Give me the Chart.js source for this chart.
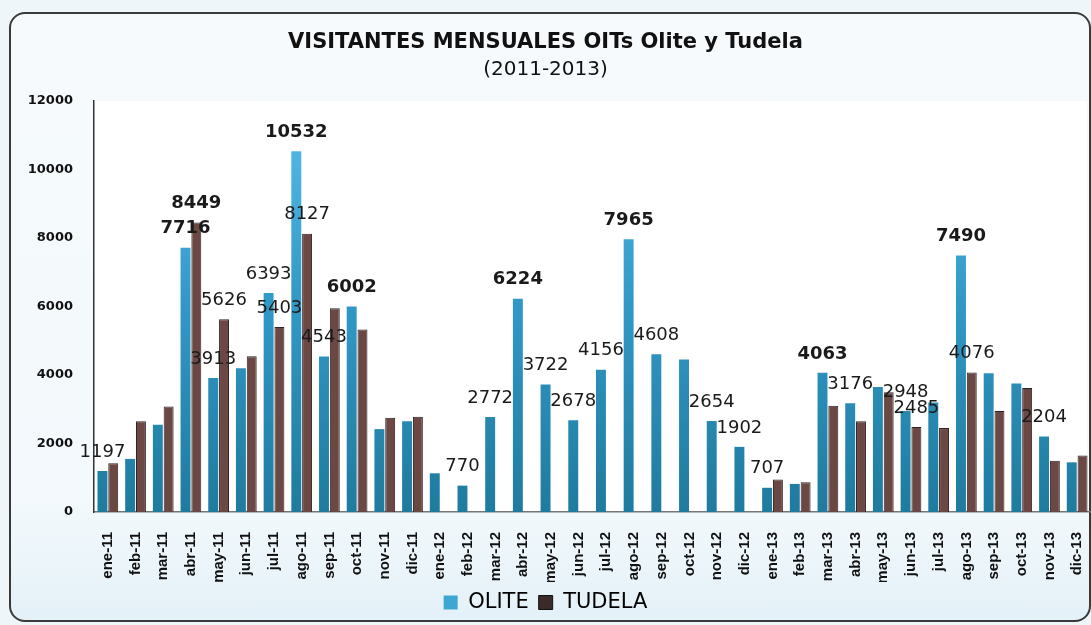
<!DOCTYPE html>
<html>
<head>
<meta charset="utf-8">
<script src="https://cdn.jsdelivr.net/npm/chart.js@4/dist/chart.umd.min.js"></script>
<style>
  html, body { margin: 0; padding: 0; background: #eef6fa; }
  #wrap { position: relative; width: 1091px; height: 625px; overflow: hidden; }
  #frame {
    position: absolute; left: 9px; top: 12px; width: 1078px; height: 606px;
    border: 2px solid #3a3a3a; border-radius: 16px;
    background: linear-gradient(#f6fafc, #f3f9fc 80%, #e4f1f8);
  }
  canvas { position: absolute; left: 0; top: 0; }
</style>
</head>
<body>
<div id="wrap">
  <div id="frame"></div>
  <canvas id="visitChart" width="1091" height="625"></canvas>
</div>
<script>
// Monthly visitors, Olite and Tudela tourist offices 2011-2013
const months = [
  'ene-11','feb-11','mar-11','abr-11','may-11','jun-11','jul-11','ago-11','sep-11','oct-11','nov-11','dic-11',
  'ene-12','feb-12','mar-12','abr-12','may-12','jun-12','jul-12','ago-12','sep-12','oct-12','nov-12','dic-12',
  'ene-13','feb-13','mar-13','abr-13','may-13','jun-13','jul-13','ago-13','sep-13','oct-13','nov-13','dic-13'
];
const olite = [
  1197, 1550, 2550, 7716, 3913, 4200, 6393, 10532, 4543, 6002, 2420, 2650,
  1130, 770, 2772, 6224, 3722, 2678, 4156, 7965, 4608, 4450, 2654, 1902,
  707, 820, 4063, 3176, 3650, 2948, 3200, 7490, 4050, 3750, 2204, 1450
];
const tudela = [
  1420, 2650, 3080, 8449, 5626, 4550, 5403, 8127, 5950, 5330, 2750, 2780,
  0, 0, 0, 0, 0, 0, 0, 0, 0, 0, 0, 0,
  950, 870, 3100, 2650, 3500, 2485, 2450, 4076, 2950, 3620, 1500, 1650
];
// which bars carry a value label in the original
const oliteLabelled = [0, 3, 4, 6, 7, 8, 9, 13, 14, 15, 16, 17, 18, 19, 20, 22, 23, 24, 26, 27, 29, 31, 34];
const tudelaLabelled = [3, 4, 6, 7, 29, 31];
const yTicks = [0, 2000, 4000, 6000, 8000, 10000, 12000];

const boldMarks = new Set(['0-3', '0-7', '0-9', '0-15', '0-19', '0-26', '0-31', '1-3']);

const valueLabels = {
  id: 'valueLabels',
  afterDatasetsDraw(chart) {
    const ctx = chart.ctx;
    const picks = [oliteLabelled, tudelaLabelled];
    ctx.save();
    ctx.fillStyle = '#1a1a1a';
    ctx.textAlign = 'center';
    ctx.textBaseline = 'middle';
    picks.forEach((idx, d) => {
      const meta = chart.getDatasetMeta(d);
      idx.forEach(i => {
        const bar = meta.data[i];
        const v = chart.data.datasets[d].data[i];
        ctx.font = (boldMarks.has(d + '-' + i) ? 'bold ' : '') + '18px "DejaVu Sans", Arial, sans-serif';
        ctx.fillText(String(v), bar.x, bar.y - 19);
      });
    });
    ctx.restore();
  }
};

const plotBg = {
  id: 'plotBg',
  beforeDraw(chart) {
    const a = chart.chartArea;
    const ctx = chart.ctx;
    ctx.save();
    ctx.fillStyle = '#ffffff';
    ctx.fillRect(a.left, a.top, a.right - a.left - 4, a.bottom - a.top);
    ctx.restore();
  }
};

function oliteFill(context) {
  const area = context.chart.chartArea;
  if (!area) return '#3a9cc8';
  const g = context.chart.ctx.createLinearGradient(0, area.top, 0, area.bottom);
  g.addColorStop(0, '#58bdea');
  g.addColorStop(0.5, '#3198c6');
  g.addColorStop(1, '#1f7b9e');
  return g;
}

const ctx1 = document.getElementById('visitChart').getContext('2d');
const visitChart = new Chart(ctx1, {
  type: 'bar',
  data: {
    labels: months,
    datasets: [{
      label: 'OLITE',
      data: olite,
      backgroundColor: oliteFill,
      borderWidth: 0
    }, {
      label: 'TUDELA',
      data: tudela,
      backgroundColor: '#6b4844',
      borderColor: '#2e2322',
      borderWidth: 1
    }]
  },
  options: {
    responsive: false,
    animation: false,
    layout: { padding: { left: 0, right: 0, top: 0, bottom: 2 } },
    datasets: { bar: { categoryPercentage: 0.78, barPercentage: 0.92 } },
    plugins: {
      title: {
        display: true,
        text: 'VISITANTES MENSUALES OITs Olite y Tudela',
        color: '#111',
        font: { family: '"DejaVu Sans", Arial, sans-serif', size: 21, weight: 'bold', lineHeight: 1.2 },
        padding: { top: 30.4, bottom: 2.4 }
      },
      subtitle: {
        display: true,
        text: '(2011-2013)',
        color: '#111',
        font: { family: '"DejaVu Sans", Arial, sans-serif', size: 20, weight: 'normal', lineHeight: 1.2 },
        padding: { top: 0, bottom: 19 }
      },
      legend: {
        position: 'bottom',
        labels: {
          color: '#111',
          boxWidth: 14,
          boxHeight: 14,
          padding: 10,
          font: { family: '"DejaVu Sans", Arial, sans-serif', size: 21 },
          generateLabels(chart) {
            return [
              { text: 'OLITE', fillStyle: '#3ea6d3', strokeStyle: '#3ea6d3', lineWidth: 0, datasetIndex: 0 },
              { text: 'TUDELA', fillStyle: '#3a2a2a', strokeStyle: '#111', lineWidth: 1, datasetIndex: 1 }
            ];
          }
        }
      },
      tooltip: { enabled: false }
    },
    scales: {
      x: {
        grid: { display: false, drawTicks: false },
        border: { display: true, color: '#777', width: 1.5 },
        ticks: {
          color: '#111',
          minRotation: 90,
          maxRotation: 90,
          autoSkip: false,
          padding: 20,
          font: { family: '"Liberation Sans", Arial, sans-serif', size: 15, weight: 'bold' }
        },
        afterFit(scale) {
          scale.height = 70;
          scale.paddingLeft = 0;
          scale.paddingRight = 0;
        }
      },
      y: {
        min: 0,
        max: 12000,
        afterBuildTicks(scale) { scale.ticks = yTicks.map(v => ({ value: v })); },
        grid: { display: false, drawTicks: false },
        border: { display: true, color: '#333', width: 1.5 },
        ticks: {
          color: '#111',
          padding: 21,
          callback: v => String(v),
          font: { family: '"DejaVu Sans", Arial, sans-serif', size: 13, weight: 'bold' }
        },
        afterFit(scale) { scale.width = 94; }
      }
    }
  },
  plugins: [plotBg, valueLabels]
});
</script>
</body>
</html>
